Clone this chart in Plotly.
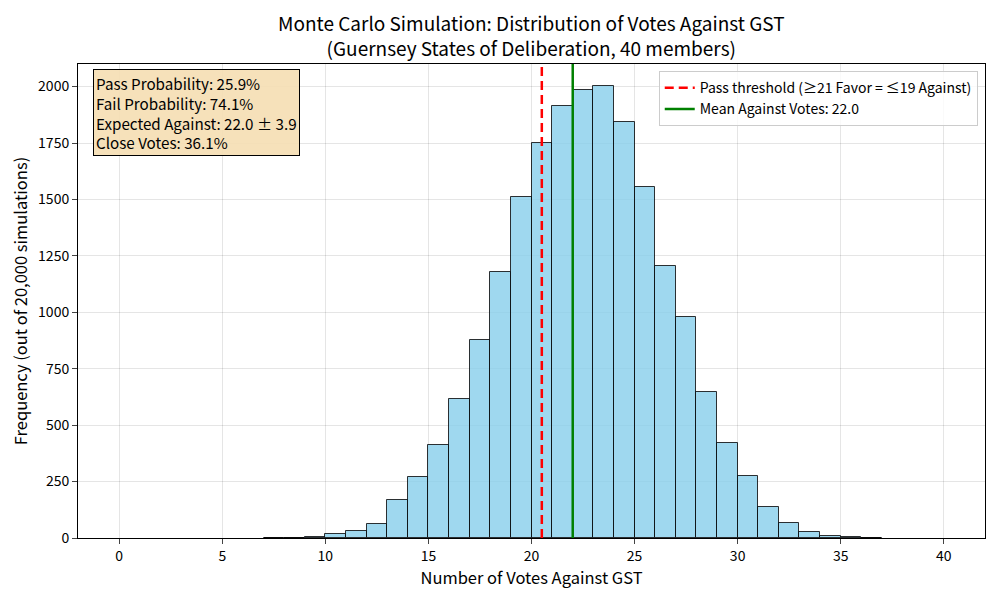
import plotly.graph_objects as go

# votes-against histogram, bins of width 1 starting at each left edge
bin_left = list(range(7, 37))
counts = [1, 2, 6, 19, 32, 62, 170, 270, 411, 615, 877, 1177, 1510, 1748,
          1912, 1987, 2001, 1842, 1557, 1203, 979, 647, 421, 274, 138, 66,
          27, 10, 6, 2]

pass_threshold = 20.5
mean_against = 22.0
y_top = 2100

stats_lines = [
    "Pass Probability: 25.9%",
    "Fail Probability: 74.1%",
    "Expected Against: 22.0 ± 3.9",
    "Close Votes: 36.1%",
]

FONT = "'Noto Sans CJK JP', 'Noto Sans', sans-serif"

fig = go.Figure()

fig.add_trace(go.Bar(
    x=bin_left,
    y=counts,
    width=1,
    offset=0,
    marker=dict(color="rgba(135,206,235,0.8)",
                line=dict(color="rgba(0,0,0,0.8)", width=1)),
    showlegend=False,
))

fig.add_trace(go.Scatter(
    x=[pass_threshold, pass_threshold], y=[0, y_top],
    mode="lines", line=dict(color="red", width=2.5, dash="9px,5px"),
    name="Pass threshold (≥21 Favor = ≤19 Against)",
))
fig.add_trace(go.Scatter(
    x=[mean_against, mean_against], y=[0, y_top],
    mode="lines", line=dict(color="green", width=2.5),
    name=f"Mean Against Votes: {mean_against:.1f}",
))

# stats box
fig.add_annotation(
    xref="paper", yref="paper", x=0.016, y=0.99,
    xanchor="left", yanchor="top", align="left",
    text="<br>".join(stats_lines), showarrow=False,
    font=dict(family=FONT, size=15.2, color="black"),
    bgcolor="rgba(245,222,179,0.9)", bordercolor="black", borderwidth=1,
    borderpad=2,
)

# title as annotation so both lines stay on the page
fig.add_annotation(
    xref="paper", yref="paper", x=0.5, y=1.061,
    xanchor="center", yanchor="middle", align="center",
    text="Monte Carlo Simulation: Distribution of Votes Against GST<br>(Guernsey States of Deliberation, 40 members)",
    showarrow=False, font=dict(family=FONT, size=19, color="black"),
)

# page body has an 8px margin, so the figure is drawn 8px in from the corner
fig.update_layout(
    width=992, height=592,
    paper_bgcolor="white", plot_bgcolor="white",
    margin=dict(l=70, r=15, t=56, b=62),
    font=dict(family=FONT, size=14, color="black"),
    bargap=0,
    legend=dict(
        x=0.992, xanchor="right", y=0.985, yanchor="top",
        bgcolor="rgba(255,255,255,0.8)", bordercolor="#cccccc", borderwidth=1,
        font=dict(size=14), tracegroupgap=0,
    ),
)

fig.update_xaxes(
    range=[-2, 42], tickvals=list(range(0, 41, 5)),
    title=dict(text="Number of Votes Against GST", font=dict(size=16.5), standoff=5),
    showgrid=True, gridcolor="rgba(0,0,0,0.1)",
    showline=True, linecolor="black", mirror=True,
    ticks="outside", ticklen=5, zeroline=False, automargin=False,
)
fig.update_yaxes(
    range=[0, y_top], tickvals=list(range(0, 2001, 250)),
    title=dict(text="Frequency (out of 20,000 simulations)", font=dict(size=16.5), standoff=8),
    showgrid=True, gridcolor="rgba(0,0,0,0.1)",
    showline=True, linecolor="black", mirror=True,
    ticks="outside", ticklen=5, zeroline=False, automargin=False,
)

fig.write_html("out.html")
